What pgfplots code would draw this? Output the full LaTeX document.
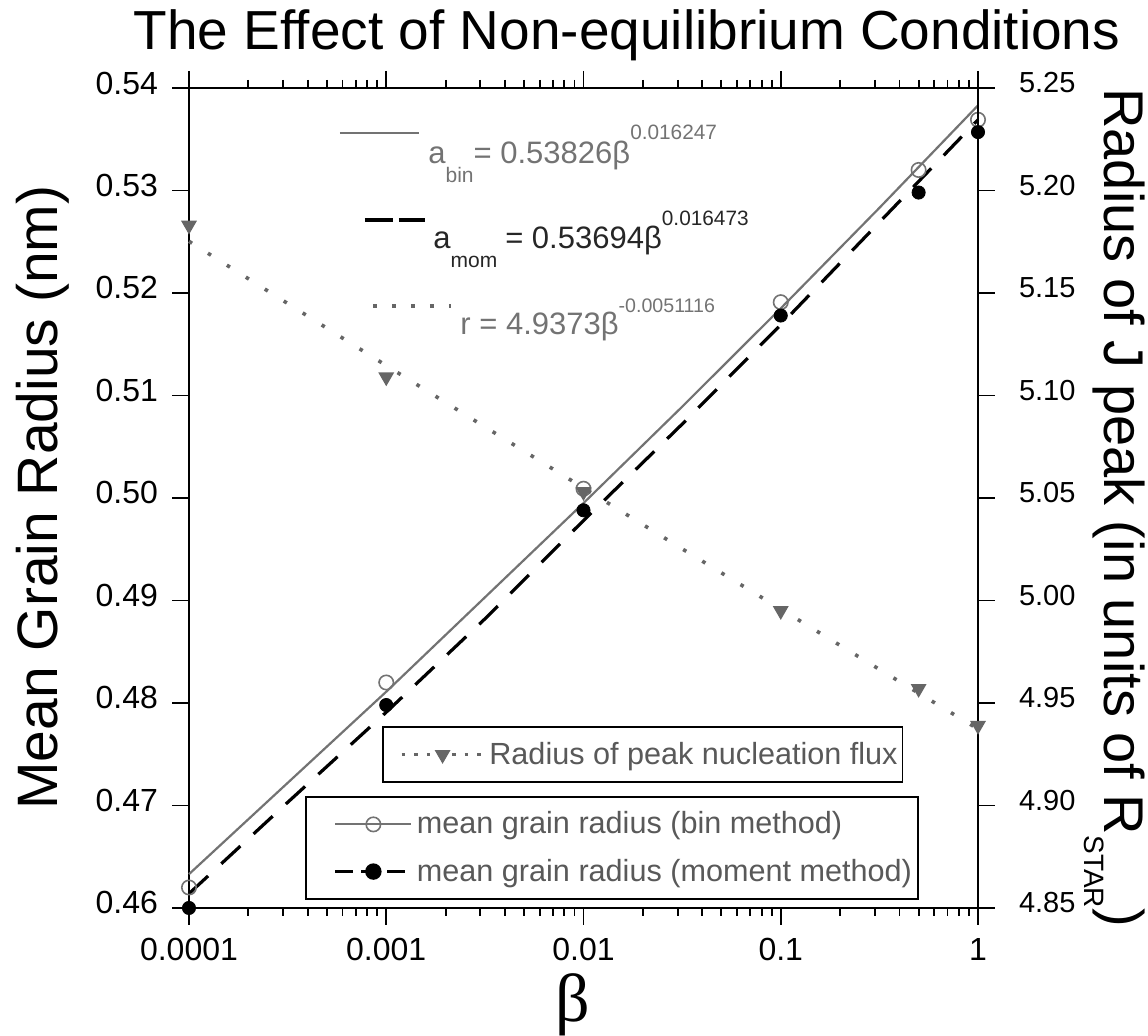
\documentclass[border=0pt]{standalone}
\usepackage{fontspec}
\setmainfont{Liberation Sans}
\newfontfamily\timesfont{Liberation Serif}
\usepackage{pgfplots}
\pgfplotsset{compat=1.18}

\definecolor{bingray}{gray}{0.45}
\definecolor{trigray}{gray}{0.40}

\begin{document}
\begin{tikzpicture}
\useasboundingbox (-94.5pt,-64pt) rectangle (479.5pt,454pt);

% left axis: mean grain radius
\begin{axis}[
    at={(0pt,0pt)}, anchor=south west,
    scale only axis, width=394.5pt, height=410pt,
    xmode=log, xmin=1e-4, xmax=1,
    ymin=0.46, ymax=0.54,
    xtick={1e-4,1e-3,1e-2,1e-1,1},
    xticklabels={0.0001,0.001,0.01,0.1,1},
    ytick={0.46,0.47,0.48,0.49,0.50,0.51,0.52,0.53,0.54},
    yticklabel style={xshift=-3.5pt, yshift=2.5pt, /pgf/number format/.cd, fixed, fixed zerofill, precision=2},
    /pgf/number format/assume math mode=true,
    xtick pos=both, ytick pos=left,
    tick align=outside,
    major tick length=8.5pt, minor tick length=4pt,
    tick style={black, line width=0.9pt},
    axis line style={line width=0.9pt},
    ticklabel style={font=\fontsize{16}{19}\selectfont},
    xticklabel style={yshift=-3pt},
    clip=false,
    legend image code/.code={\path (0pt,0pt);
        \draw[mark repeat=2,mark phase=2,#1] plot coordinates {(13pt,0pt)(32pt,0pt)(51pt,0pt)};},
    legend style={at={(0.147,0.0098)}, anchor=south west, draw=black, line width=0.8pt,
        fill=white, inner xsep=1pt, inner ysep=5.5pt, row sep=7pt,
        cells={anchor=west}, nodes={inner sep=2pt, text depth=0.15em},
        font=\fontsize{15.3}{18}\selectfont, text=black!65},
]
\addlegendimage{bingray, line width=1pt, solid, mark=o, mark size=3.6pt, mark options={line width=0.8pt}}
\addlegendentry{mean grain radius (bin method)}
\addlegendimage{black, line width=1.6pt, dash pattern=on 9pt off 4pt, mark=*, mark size=3.3pt, mark options={solid}}
\addlegendentry{mean grain radius (moment method)}

% fitted curves
\addplot[forget plot, bingray, line width=1.1pt] coordinates {
    (1e-4,0.4633)(3.162e-4,0.4722)(1e-3,0.4811)(3.162e-3,0.4903)(1e-2,0.4995)
    (3.162e-2,0.5089)(0.1,0.5185)(0.3162,0.5283)(1,0.5383)};
\addplot[forget plot, black, line width=1.6pt, dash pattern=on 13pt off 9pt] coordinates {
    (1e-4,0.4614)(3.162e-4,0.4703)(1e-3,0.4791)(3.162e-3,0.4882)(1e-2,0.4978)
    (3.162e-2,0.5072)(0.1,0.5169)(0.3162,0.5269)(1,0.5369)};

% data
\addplot[forget plot, only marks, bingray, mark=o, mark size=3.6pt, mark options={line width=0.8pt}] coordinates {
    (1e-4,0.4620)(1e-3,0.4820)(1e-2,0.5009)(0.1,0.5191)(0.5,0.5320)(1,0.5369)};
\addplot[forget plot, only marks, black, mark=*, mark size=3.3pt] coordinates {
    (1e-4,0.4600)(1e-3,0.4798)(1e-2,0.4988)(0.1,0.5178)(0.5,0.5298)(1,0.5357)};
\end{axis}

% right axis: radius of J peak
\begin{axis}[
    at={(0pt,0pt)}, anchor=south west,
    scale only axis, width=394.5pt, height=410pt,
    xmode=log, xmin=1e-4, xmax=1,
    hide x axis,
    axis y line*=right,
    ymin=4.85, ymax=5.25,
    ytick={4.85,4.90,4.95,5.00,5.05,5.10,5.15,5.20,5.25},
    yticklabel style={xshift=8.5pt, yshift=2.5pt, /pgf/number format/.cd, fixed, fixed zerofill, precision=2},
    /pgf/number format/assume math mode=true,
    tick align=outside,
    major tick length=8.5pt,
    tick style={black, line width=0.9pt},
    axis line style={line width=0.9pt},
    ticklabel style={font=\fontsize{14.5}{17}\selectfont},
    clip=false,
    legend image code/.code={\path (0pt,0pt);
        \draw[mark repeat=2,mark phase=2,#1] plot coordinates {(8pt,0pt)(28.5pt,0pt)(49pt,0pt)};},
    legend style={at={(0.2446,0.1524)}, anchor=south west, draw=black, line width=0.8pt,
        fill=white, inner xsep=0.5pt, inner ysep=5.5pt,
        cells={anchor=west}, nodes={inner sep=2pt, text depth=0.15em},
        font=\fontsize{15.3}{18}\selectfont, text=black!65},
]
\addlegendimage{trigray, line width=1.8pt, dash pattern=on 1.8pt off 4.5pt, mark=triangle*, mark size=4pt, mark options={solid, rotate=180, line width=0.6pt}}
\addlegendentry{Radius of peak nucleation flux}

\addplot[forget plot, trigray, line width=1.8pt, dash pattern=on 1.8pt off 9.4pt] coordinates {
    (1e-4,5.1752)(3.162e-4,5.1449)(1e-3,5.1146)(3.162e-3,5.0847)(1e-2,5.0549)
    (3.162e-2,5.0252)(0.1,4.9958)(0.3162,4.9664)(1,4.9373)};
\addplot[forget plot, only marks, trigray, mark=triangle*, mark size=4pt, mark options={rotate=180, line width=0.6pt}] coordinates {
    (1e-4,5.183)(1e-3,5.109)(1e-2,5.053)(0.1,4.995)(0.5,4.957)(1,4.939)};
\end{axis}

% title and axis labels
\node[anchor=base, inner sep=0pt, font=\fontsize{27.5}{32}\selectfont] at (219pt,429pt)
    {The Effect of Non-equilibrium Conditions};
\node[anchor=base, inner sep=0pt, font=\timesfont\fontsize{34}{40}\selectfont] at (192pt,-57pt) {β};
\node[anchor=base west, rotate=90, inner sep=0pt, font=\fontsize{28.5}{34}\selectfont] at (-65.5pt,49pt)
    {Mean Grain Radius (nm)};
\node[anchor=base west, rotate=-90, inner sep=0pt, font=\fontsize{28}{32}\selectfont] at (457.5pt,410pt)
    {Radius of J peak (in units of R\raisebox{-10pt}{\fontsize{14}{16}\selectfont STAR})};

% fit equations with their keys
\draw[bingray, line width=1pt] (75.5pt,387.5pt) -- (115pt,387.5pt);
\node[anchor=base west, inner sep=0pt, text=bingray, font=\fontsize{15.5}{18}\selectfont] at (119.5pt,372pt)
    {a\raisebox{-9.5pt}{\fontsize{10.5}{12}\selectfont bin}= 0.53826β\raisebox{12pt}{\fontsize{10.4}{12}\selectfont 0.016247}};
\draw[black, line width=1.6pt, dash pattern=on 14pt off 3pt] (88pt,344pt) -- (118pt,344pt);
\node[anchor=base west, inner sep=0pt, text=black!85, font=\fontsize{15.5}{18}\selectfont] at (122pt,329.5pt)
    {a\raisebox{-9.5pt}{\fontsize{10.5}{12}\selectfont mom}\hspace{4pt}= 0.53694β\raisebox{11.5pt}{\fontsize{10.4}{12}\selectfont 0.016473}};
\draw[trigray, line width=1.8pt, dash pattern=on 1.8pt off 7.7pt] (92pt,301pt) -- (131pt,301pt);
\node[anchor=base west, inner sep=0pt, text=bingray, font=\fontsize{15.5}{18}\selectfont] at (135.5pt,286.5pt)
    {r = 4.9373β\raisebox{11pt}{\fontsize{9.8}{12}\selectfont -0.0051116}};
\end{tikzpicture}
\end{document}
